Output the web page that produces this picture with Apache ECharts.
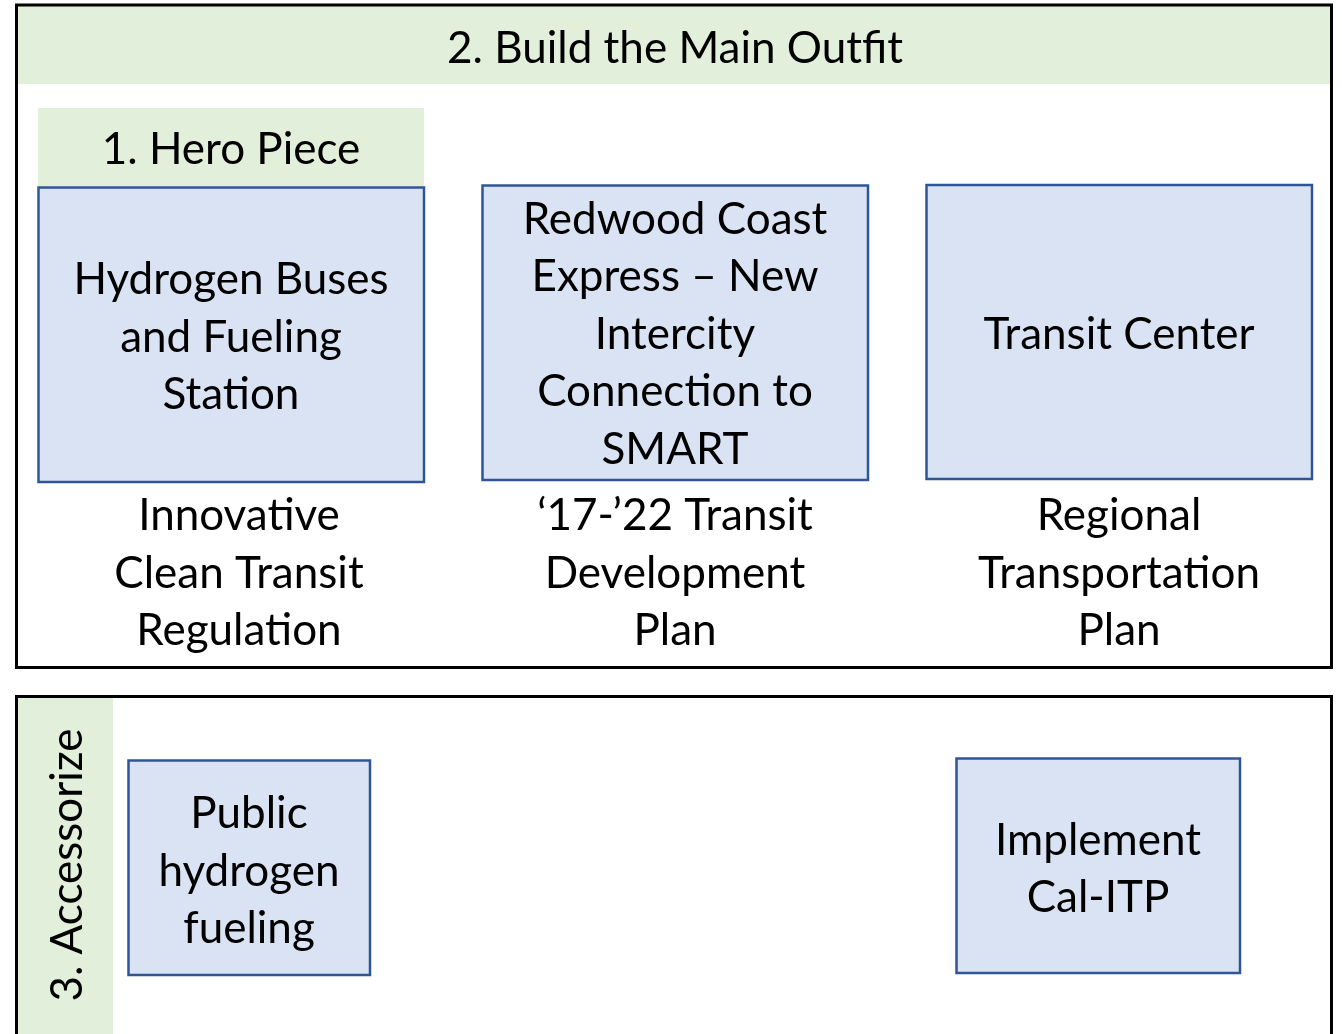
<!DOCTYPE html>
<html>
<head>
<meta charset="utf-8">
<script src="https://cdn.jsdelivr.net/npm/echarts@6/dist/echarts.min.js"></script>
<style>
html,body{margin:0;padding:0;background:#fff;}
#chart{width:1342px;height:1034px;}
</style>
</head>
<body>
<div id="chart"></div>
<script>
// ---- content ----
const sectionTitles = ['2. Build the Main Outfit', '1. Hero Piece', '3. Accessorize'];
const projectBoxes = [
  'Hydrogen Buses\nand Fueling\nStation',
  'Redwood Coast\nExpress \u2013 New\nIntercity\nConnection to\nSMART',
  'Transit Center'
];
const projectSources = [
  'Innovative\nClean Transit\nRegulation',
  '\u201817-\u201922 Transit\nDevelopment\nPlan',
  'Regional\nTransportation\nPlan'
];
const accessoryBoxes = ['Public\nhydrogen\nfueling', 'Implement\nCal-ITP'];

// ---- layout (pixel-space geometry on a hidden value grid) ----
const W = 1342, H = 1034;
const GREEN = '#e2efda', BLUE = '#dae3f3', BLUE_EDGE = '#2f5597';
const FONT_FAMILY = 'Lato, "Open Sans", sans-serif';
const FS = 44, LH = 57.5, DY = 1.5;

const shapes = [];
// section 2 header band + frame
shapes.push({kind:'band', r:[18, 6, 1330, 84], text: sectionTitles[0], tx: 675, ty: 47});
shapes.push({kind:'frame', r:[16.5, 5, 1331.5, 667.5]});
// hero band
shapes.push({kind:'band', r:[38, 108, 424, 186], text: sectionTitles[1], tx: 231, ty: 148});
// project boxes
const boxRects = [[38.5, 187.5, 424, 482], [482.5, 185.5, 868, 480], [926.5, 185, 1312, 479]];
const boxText = [[231, 336], [675, 333], [1119, 333]];
const srcText = [[239, 572], [675, 572], [1119, 572]];
projectBoxes.forEach((t, i) => {
  shapes.push({kind:'box', r: boxRects[i], text: t, tx: boxText[i][0], ty: boxText[i][1]});
  shapes.push({kind:'label', text: projectSources[i], tx: srcText[i][0], ty: srcText[i][1]});
});
// section 3 side band + frame
shapes.push({kind:'band', r:[18, 698, 113, 1034]});
shapes.push({kind:'frame', r:[16.5, 696.5, 1331.5, 1045]});
shapes.push({kind:'vlabel', text: sectionTitles[2], tx: 66, ty: 865});
const accRects = [[128.5, 760.5, 370, 975], [956.5, 758.5, 1240, 973]];
const accText = [[249, 870], [1098, 868]];
accessoryBoxes.forEach((t, i) => {
  shapes.push({kind:'box', r: accRects[i], text: t, tx: accText[i][0], ty: accText[i][1]});
});

function textEl(api, s, rot) {
  const p = api.coord([s.tx, s.ty]);
  return {
    type: 'text',
    x: p[0] + (rot ? DY : 0), y: p[1] + (rot ? 0 : DY),
    rotation: rot || 0,
    style: {
      text: s.text,
      fill: '#000',
      font: FS + 'px ' + FONT_FAMILY,
      lineHeight: LH,
      align: 'center',
      verticalAlign: 'middle'
    },
    z2: 10
  };
}

function renderItem(params, api) {
  const s = shapes[params.dataIndex];
  const children = [];
  if (s.r) {
    const a = api.coord([s.r[0], s.r[1]]);
    const b = api.coord([s.r[2], s.r[3]]);
    const shape = {x: a[0], y: a[1], width: b[0] - a[0], height: b[1] - a[1]};
    let style;
    if (s.kind === 'band') style = {fill: GREEN, stroke: null};
    else if (s.kind === 'frame') style = {fill: null, stroke: '#000', lineWidth: 3};
    else style = {fill: BLUE, stroke: BLUE_EDGE, lineWidth: 2.5};
    children.push({type: 'rect', shape: shape, style: style, z2: s.kind === 'frame' ? 5 : 1});
  }
  if (s.text) children.push(textEl(api, s, s.kind === 'vlabel' ? Math.PI / 2 : 0));
  return {type: 'group', children: children};
}

const chart = echarts.init(document.getElementById('chart'), null, {renderer: 'canvas'});
chart.setOption({
  animation: false,
  backgroundColor: '#fff',
  grid: {left: 0, right: 0, top: 0, bottom: 0},
  xAxis: {type: 'value', min: 0, max: W, show: false},
  yAxis: {type: 'value', min: 0, max: H, inverse: true, show: false},
  series: [{
    type: 'custom',
    renderItem: renderItem,
    clip: false,
    data: shapes.map((s, i) => [i])
  }]
});
</script>
</body>
</html>
